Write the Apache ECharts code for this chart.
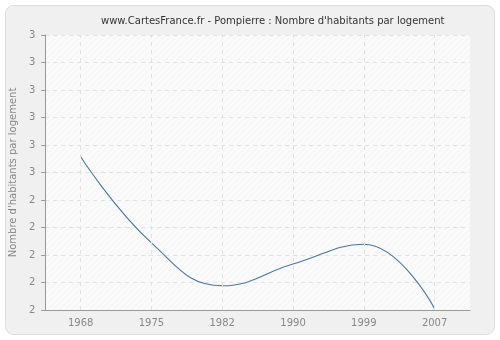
<!DOCTYPE html>
<html><head><meta charset="utf-8">
<script src="https://cdn.jsdelivr.net/npm/echarts@6/dist/echarts.min.js"></script>
<style>html,body{margin:0;padding:0;background:#fff}#c{width:500px;height:340px}</style>
</head><body><div id="c"></div>
<script>
var categories = ['1968', '1975', '1982', '1990', '1999', '2007'];
var values = [2.557, 2.244, 2.088, 2.167, 2.239, 2.005];
var yTicks = [2, 2.1, 2.2, 2.3, 2.4, 2.5, 2.6, 2.7, 2.8, 2.9, 3];
var titleText = "www.CartesFrance.fr - Pompierre : Nombre d'habitants par logement";
var yName = "Nombre d'habitants par logement";

var pc = document.createElement('canvas');
pc.width = 6; pc.height = 6;
var g = pc.getContext('2d');
g.fillStyle = '#f8f8f8'; g.fillRect(0, 0, 6, 6);
g.strokeStyle = '#ffffff'; g.lineWidth = 1;
g.beginPath(); g.moveTo(0, 6); g.lineTo(6, 0); g.stroke();
g.beginPath(); g.moveTo(-3, 3); g.lineTo(3, -3); g.stroke();
g.beginPath(); g.moveTo(3, 9); g.lineTo(9, 3); g.stroke();

var font = 'DejaVu Sans';
var chart = echarts.init(document.getElementById('c'), null, {renderer: 'canvas'});
chart.setOption({
  animation: false,
  textStyle: {fontFamily: font},
  graphic: [{
    type: 'rect', z: -10, silent: true,
    shape: {x: 5.5, y: 5.5, width: 489, height: 329, r: 8},
    style: {fill: '#f0f0f0', stroke: '#dcdcdc', lineWidth: 1}
  }],
  title: {
    text: titleText, left: 96, top: 11,
    textStyle: {fontFamily: font, fontSize: 10, fontWeight: 'normal', color: '#333'}
  },
  grid: {
    left: 41, right: 30, top: 35, bottom: 30, show: true,
    backgroundColor: {image: pc, repeat: 'repeat'}, borderWidth: 0
  },
  xAxis: {
    type: 'category', data: categories, boundaryGap: true,
    axisLine: {lineStyle: {color: '#999'}},
    axisTick: {alignWithLabel: true, length: 5, lineStyle: {color: '#999'}},
    axisLabel: {color: '#888', fontSize: 10, fontFamily: font, margin: 8},
    splitLine: {show: false}
  },
  yAxis: {
    type: 'value', min: 2, max: 3, interval: 0.1,
    name: yName, nameLocation: 'middle', nameGap: 27,
    nameTextStyle: {color: '#888', fontSize: 10, fontFamily: font},
    axisLine: {show: true, lineStyle: {color: '#999'}},
    axisTick: {show: true, length: 4, lineStyle: {color: '#999'}},
    axisLabel: {color: '#888', fontSize: 10, fontFamily: font, margin: 10,
      formatter: function (v) { return String(Math.round(v)); }},
    splitLine: {lineStyle: {color: '#e2e2e2', type: [4, 4]}}
  },
  series: [{
    type: 'line', data: values, smooth: 0.45, symbol: 'none',
    lineStyle: {color: '#4a76a8', width: 1.1},
    markLine: {
      silent: true, symbol: 'none', label: {show: false},
      lineStyle: {color: '#e2e2e2', type: [4, 4], width: 1},
      data: categories.map(function (c) { return {xAxis: c}; })
    }
  }]
});
</script></body></html>
